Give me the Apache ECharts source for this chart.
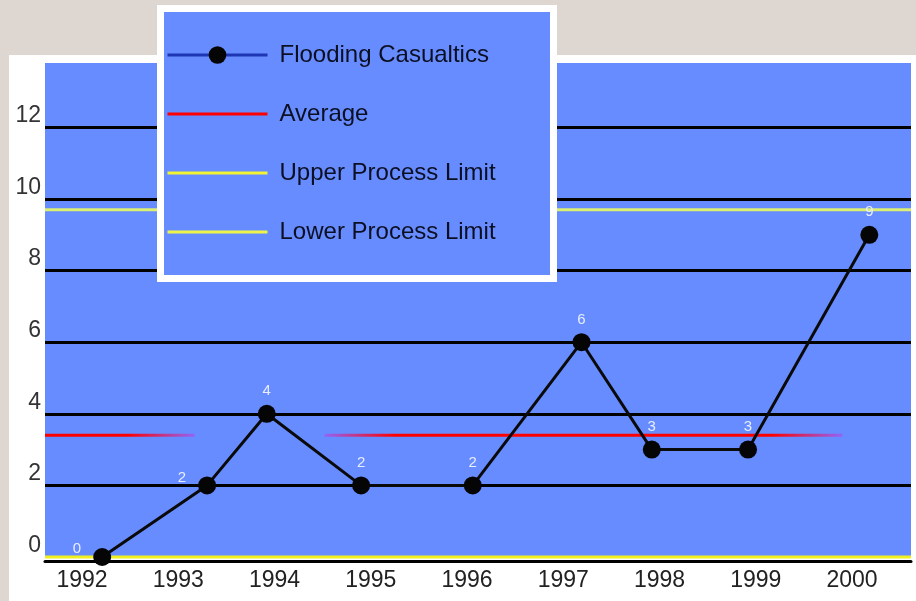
<!DOCTYPE html>
<html>
<head>
<meta charset="utf-8">
<script src="https://cdn.jsdelivr.net/npm/echarts@6/dist/echarts.min.js"></script>
<style>
  html, body { margin: 0; padding: 0; background: #ded6d0; }
  #panel { position: absolute; left: 9px; top: 55px; width: 907px; height: 546px; background: #ffffff; }
  #chart { position: absolute; left: 0; top: 0; width: 916px; height: 601px; }
</style>
</head>
<body>
<div id="panel"></div>
<div id="chart"></div>
<script>
// Yearly flooding casualties with control limits
const years = [1992, 1993, 1994, 1995, 1996, 1997, 1998, 1999, 2000];
// where each yearly point sits along the time axis
const yearPos = [1992.21, 1993.30, 1993.92, 1994.90, 1996.06, 1997.19, 1997.92, 1998.92, 2000.18];
const casualties = [0, 2, 4, 2, 2, 6, 3, 3, 9];
const averageValue = 3.4;
const upperLimit = 9.7;
const lowerLimit = 0;
// stretches of the time axis covered by the average line
const averageSpans = [[1991.616, 1993.17], [1994.52, 1999.9]];
const xMin = 1991.616, xMax = 2000.613;
const yMin = 0, yMax = 13.8, yStep = 2;

const FONT = 'Liberation Sans, Arial, sans-serif';
const PLOT_BLUE = '#668cff';

const floodData = yearPos.map((x, i) => {
  const item = { value: [x, casualties[i]] };
  if (i < 2) {
    item.label = { position: 'left', distance: 12, offset: [0, -8] };
  }
  return item;
});

const avgSeries = averageSpans.map((span, k) => ({
  name: 'Average',
  type: 'line',
  symbol: 'none',
  z: 3,
  silent: true,
  data: [[span[0], averageValue], [span[1], averageValue]],
  lineStyle: {
    width: 3,
    color: new echarts.graphic.LinearGradient(0, 0, 1, 0, k === 0
      ? [{ offset: 0, color: '#ff0000' }, { offset: 0.55, color: '#ff0000' }, { offset: 1, color: '#8f66ff' }]
      : [{ offset: 0, color: '#8f66ff' }, { offset: 0.14, color: '#ff0000' }, { offset: 0.86, color: '#ff0000' }, { offset: 1, color: '#8f66ff' }])
  }
}));

const chart = echarts.init(document.getElementById('chart'), null, { renderer: 'canvas' });

chart.setOption({
  animation: false,
  backgroundColor: 'transparent',
  grid: {
    left: 45, right: 5, top: 63, bottom: 44,
    show: true, backgroundColor: PLOT_BLUE, borderWidth: 0
  },
  legend: {
    orient: 'vertical',
    left: 161, top: 38,
    itemWidth: 100, itemHeight: 22, itemGap: 35,
    selectedMode: false,
    z: 20,
    textStyle: { fontFamily: FONT, fontSize: 24, color: '#0c0f22', padding: [0, 0, 0, 7] },
    data: [
      { name: 'Flooding Casualtics', itemStyle: { color: '#050505' }, lineStyle: { color: '#1e36b4', width: 3 } },
      { name: 'Average', itemStyle: { opacity: 0 }, lineStyle: { color: '#ff0000', width: 3 } },
      { name: 'Upper Process Limit', itemStyle: { opacity: 0 }, lineStyle: { color: '#f2f530', width: 3 } },
      { name: 'Lower Process Limit', itemStyle: { opacity: 0 }, lineStyle: { color: '#eef548', width: 3 } }
    ]
  },
  graphic: [{
    type: 'rect',
    z: 15,
    shape: { x: 160.5, y: 8.5, width: 393, height: 270 },
    style: { fill: PLOT_BLUE, stroke: '#ffffff', lineWidth: 7 }
  }],
  xAxis: {
    type: 'value',
    min: xMin, max: xMax,
    position: 'bottom',
    offset: 4,
    axisLine: { onZero: false, lineStyle: { color: '#000', width: 3 } },
    axisTick: { show: false },
    splitLine: { show: false },
    axisLabel: {
      customValues: years,
      formatter: v => String(Math.round(v)),
      fontFamily: FONT, fontSize: 23, color: '#222', margin: 8
    }
  },
  yAxis: {
    type: 'value',
    min: yMin, max: yMax, interval: yStep,
    axisLine: { show: false },
    axisTick: { show: false },
    splitLine: { show: true, showMinLine: false, showMaxLine: false, lineStyle: { color: '#000', width: 3 } },
    axisLabel: {
      formatter: v => (v % yStep === 0 ? String(v) : ''),
      fontFamily: FONT, fontSize: 23, color: '#333', margin: 4, verticalAlign: 'bottom'
    }
  },
  series: [
    {
      name: 'Lower Process Limit',
      type: 'line', symbol: 'none', z: 3, silent: true, clip: false,
      data: [[xMin, lowerLimit], [xMax, lowerLimit]],
      lineStyle: { color: '#f0f020', width: 3 }
    },
    {
      name: 'Upper Process Limit',
      type: 'line', symbol: 'none', z: 3, silent: true,
      data: [[xMin, upperLimit], [xMax, upperLimit]],
      lineStyle: { color: '#dcef70', width: 3 }
    },
    ...avgSeries,
    {
      name: 'Flooding Casualtics',
      type: 'line',
      z: 5,
      clip: false,
      symbol: 'circle',
      symbolSize: 18,
      data: floodData,
      itemStyle: { color: '#050505' },
      lineStyle: { color: '#0a0a0a', width: 3 },
      label: {
        show: true,
        position: 'top',
        distance: 6,
        formatter: p => String(p.value[1]),
        fontFamily: FONT, fontSize: 15, color: '#e8eeff'
      }
    }
  ]
});
</script>
</body>
</html>
